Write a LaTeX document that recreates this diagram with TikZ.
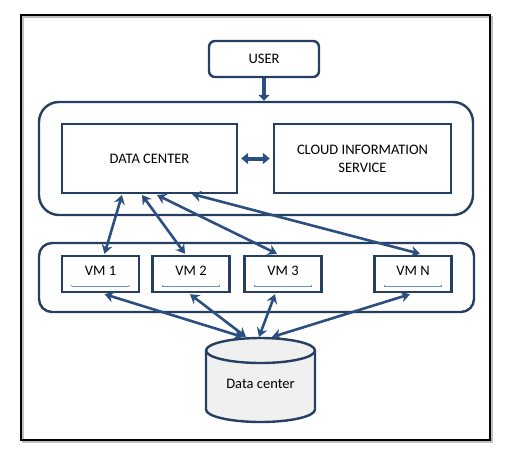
\documentclass[tikz,border=0pt]{standalone}
\usepackage{fontspec}
\setmainfont{Carlito}
\usetikzlibrary{arrows.meta}
\definecolor{boxblue}{HTML}{243F60}
\definecolor{arrblue}{HTML}{2B4F80}
\definecolor{thinblue}{HTML}{6F8FBF}
\definecolor{cylfill}{HTML}{F0F0F0}
\tikzset{
  box/.style={draw=boxblue, line width=2.4pt, inner sep=0pt},
  vmbox/.style={box, minimum width=77pt, minimum height=36pt},
  txt/.style={font=\fontsize{14.5}{18}\selectfont, text=black, align=center},
  dbl/.style={draw=arrblue, line width=2.6pt, {Stealth[length=9pt,width=11pt,inset=3pt]}-{Stealth[length=9pt,width=11pt,inset=3pt]}},
  thinline/.style={draw=thinblue, line width=0.7pt},
}
\begin{document}
\begin{tikzpicture}[x=1pt,y=-1pt]
\useasboundingbox (0,0) rectangle (512,453);
% outer frame with shadow
\draw[gray!50, line width=2pt] (23,17) rectangle (492,442);
\draw[black, line width=2.2pt] (21,15) rectangle (490,440);
% user
\node[box, rounded corners=6pt, minimum width=110pt, minimum height=36pt, txt] (user) at (264,59) {USER};
% top group
\node[box, rounded corners=20pt, minimum width=434pt, minimum height=113pt] (topgrp) at (256,158.5) {};
\node[box, minimum width=175pt, minimum height=69pt, txt] (dc) at (149.5,158.5) {DATA CENTER};
\node[box, minimum width=177pt, minimum height=69pt, txt] (cis) at (362.5,158.5) {CLOUD INFORMATION\\SERVICE};
% bottom group
\node[box, rounded corners=13pt, minimum width=435pt, minimum height=69pt] (botgrp) at (256.5,277.5) {};
\node[vmbox] (vm1) at (100.5,274) {};
\node[vmbox] (vm2) at (191,274) {};
\node[vmbox] (vm3) at (283,274) {};
\node[vmbox] (vmn) at (413,274) {};
\foreach \v/\t in {vm1/VM 1, vm2/VM 2, vm3/VM 3, vmn/VM N}{
  \node[txt, anchor=center] (\v t) at ([yshift=3pt]\v.center) {\t};
  \coordinate (\v a) at ([xshift=11pt,yshift=7pt]\v.south west);
  \coordinate (\v b) at ([xshift=-11pt,yshift=7pt]\v.south east);
  \draw[thinline] (\v a) -- (\v b);
  \draw[thinline] ([yshift=1.5pt]\v a) -- (\v a);
  \draw[thinline] ([yshift=1.5pt]\v b) -- (\v b);
}
% cylinder (drawn directly)
\coordinate (db) at (260.5,350.5);
\draw[draw=boxblue, line width=2.4pt, fill=cylfill]
  (206,350.5) -- (206,409.5) arc[start angle=180, end angle=360, x radius=54.5pt, y radius=12.5pt]
  -- (315,350.5) arc[start angle=0, end angle=180, x radius=54.5pt, y radius=12.5pt] -- cycle;
\draw[draw=boxblue, line width=2.4pt]
  (206,350.5) arc[start angle=180, end angle=360, x radius=54.5pt, y radius=12.5pt];
\node[txt] (dbt) at (260.5,384) {Data center};
% arrows
\draw[draw=arrblue, line width=4.5pt, -{Triangle[length=6pt,width=11pt]}] (user.south) -- (user.south |- topgrp.north);
\path (dc.east) ++(3pt,0) coordinate (dce);
\path (cis.west) ++(-3pt,0) coordinate (cisw);
\draw[draw=arrblue, line width=4pt, {Triangle[length=7pt,width=11pt]}-{Triangle[length=7pt,width=11pt]}] (dce) -- (cisw);
\coordinate (d1) at (122,195);
\coordinate (d2) at (142,195);
\coordinate (d3) at (157,195);
\coordinate (d4) at (192,194);
\draw[dbl] (d1) -- ([xshift=4pt,yshift=1pt]vm1.north);
\draw[dbl] (d2) -- ([xshift=-6pt,yshift=1pt]vm2.north);
\draw[dbl] (d3) -- ([xshift=-6pt,yshift=1pt]vm3.north);
\draw[dbl] (d4) -- ([xshift=7pt,yshift=1pt]vmn.north);
\coordinate (c1) at (243,337);
\coordinate (c2) at (246,337);
\coordinate (c3) at (259,337);
\coordinate (c4) at (272,337);
\draw[dbl] (c1) -- ([xshift=4pt,yshift=-1pt]vm1.south);
\draw[dbl] (c2) -- ([xshift=-1pt,yshift=-1pt]vm2.south);
\draw[dbl] (c3) -- ([xshift=-8pt,yshift=-1pt]vm3.south);
\draw[dbl] (c4) -- ([xshift=-3pt,yshift=-1pt]vmn.south);
\end{tikzpicture}
\end{document}
